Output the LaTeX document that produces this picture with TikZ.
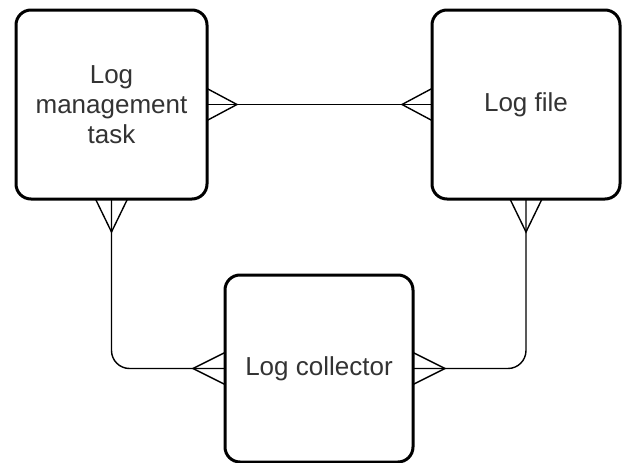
\documentclass[tikz,border=0pt]{standalone}
\usepackage{fontspec}
\setmainfont{Liberation Sans}
\usetikzlibrary{calc}
\definecolor{txt}{RGB}{51,51,51}
\tikzset{
  entity/.style={draw=black, line width=3pt, rounded corners=15pt, fill=white,
    outer sep=0pt, inner sep=0pt, text=txt, align=center,
    font=\fontsize{26}{30}\selectfont},
  link/.style={draw=black, line width=1.4pt},
}
\begin{document}
\begin{tikzpicture}[x=1pt,y=-1pt]
\useasboundingbox (0,0) rectangle (625,463);
\node[entity, minimum width=191pt, minimum height=189pt] (task) at (111.5,104.5) {Log\\management\\task};
\node[entity, minimum width=188pt, minimum height=189pt] (file) at (526,104.5) {Log file};
\node[entity, minimum width=188pt, minimum height=187pt] (coll) at (319,368.5) {Log collector};
% connectors
\draw[link] (task.east) -- (file.west);
\draw[link, rounded corners=18pt] (task.south) |- (coll.west);
\draw[link, rounded corners=18pt] (file.south) |- (coll.east);
% crow's feet
\draw[link] ([yshift=16pt]task.east) -- ([xshift=30pt]task.east) -- ([yshift=-16pt]task.east);
\draw[link] ([yshift=16pt]file.west) -- ([xshift=-30pt]file.west) -- ([yshift=-16pt]file.west);
\draw[link] ([xshift=-16pt]task.south) -- ([yshift=-33pt]task.south) -- ([xshift=16pt]task.south);
\draw[link] ([xshift=-16pt]file.south) -- ([yshift=-33pt]file.south) -- ([xshift=16pt]file.south);
\draw[link] ([yshift=16pt]coll.west) -- ([xshift=-32pt]coll.west) -- ([yshift=-16pt]coll.west);
\draw[link] ([yshift=16pt]coll.east) -- ([xshift=32pt]coll.east) -- ([yshift=-16pt]coll.east);
\end{tikzpicture}
\end{document}
